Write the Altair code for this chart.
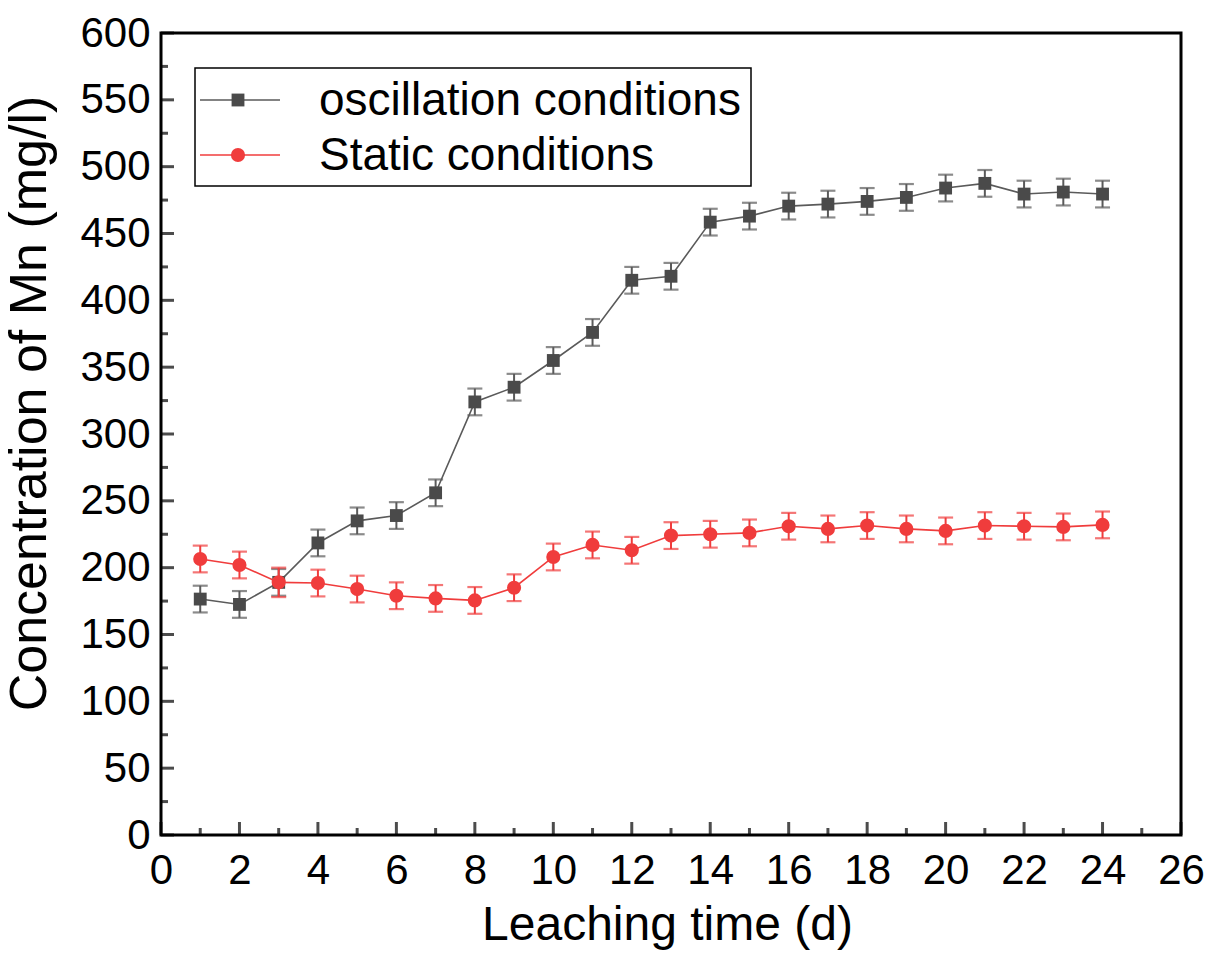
import altair as alt
import pandas as pd

# Leaching time (days) and Mn concentration (mg/l) with standard deviations
days = list(range(1, 25))
oscillation = [176.5, 172.5, 189, 218.5, 235, 239, 256, 324, 335, 355, 376, 415,
               418, 458.5, 463, 470.5, 472, 474, 477, 484, 487.5, 479.5, 481, 479.5]
oscillation_err = [10, 10, 10, 10, 10, 10, 10, 10, 10, 10, 10, 10,
                   10, 10, 10, 10, 10, 10, 10, 10, 10, 10, 10, 10]
static = [206.5, 202, 189, 188.5, 184, 179, 177, 175.5, 185, 208, 217, 213,
          224, 225, 226, 231, 229, 231.5, 229, 227.5, 231.5, 231, 230.5, 232]
static_err = [10, 10, 11, 10, 10, 10, 10, 10, 10, 10, 10, 10,
              10, 10, 10, 10, 10, 10, 10, 10, 10, 10, 10, 10]

series_names = ["oscillation conditions", "Static conditions"]
series_colors = ["#4a4a4a", "#f03c3c"]
line_colors = ["#5a5a5a", "#f03c3c"]
series_shapes = ["square", "circle"]
series_sizes = [165, 200]

x_major = list(range(0, 27, 2))
x_minor = list(range(1, 26, 2))
y_major = list(range(0, 601, 50))
y_minor = list(range(25, 600, 50))

W, H = 1020, 802
FONT = "Liberation Sans"

x_scale = alt.Scale(domain=[0, 26], nice=False, zero=False)
y_scale = alt.Scale(domain=[0, 600], nice=False, zero=False)

osc_df = pd.DataFrame({"day": days, "value": oscillation, "err": oscillation_err})
osc_df["lo"] = osc_df["value"] - osc_df["err"]
osc_df["hi"] = osc_df["value"] + osc_df["err"]
sta_df = pd.DataFrame({"day": days, "value": static, "err": static_err})
sta_df["lo"] = sta_df["value"] - sta_df["err"]
sta_df["hi"] = sta_df["value"] + sta_df["err"]

x_axis = alt.Axis(values=x_major, ticks=False, domain=False, grid=False,
                  labelFlush=False, labelOverlap=False,
                  labelFontSize=42, labelFont=FONT, labelColor="black", labelPadding=15,
                  title="Leaching time (d)", titleFont=FONT, titleFontSize=48,
                  titleFontWeight="normal", titleColor="black",
                  titleX=506, titleY=90, titleAlign="center", titleBaseline="middle")
y_axis = alt.Axis(values=y_major, ticks=False, domain=False, grid=False,
                  labelFlush=False, labelOverlap=False,
                  labelFontSize=42, labelFont=FONT, labelColor="black", labelPadding=11,
                  title="Concentration of Mn (mg/l)", titleFont=FONT, titleFontSize=52,
                  titleFontWeight="normal", titleColor="black", titleAngle=270,
                  titleX=-132, titleY=370, titleAlign="center", titleBaseline="middle")


def X(field):
    return alt.X(field, scale=x_scale, axis=x_axis)


def Y(field):
    return alt.Y(field, scale=y_scale, axis=y_axis)


def series_layers(df, color, line_color, shape, size):
    base = alt.Chart(df)
    line = base.mark_line(color=line_color, strokeWidth=1.6).encode(
        x=X("day:Q"), y=Y("value:Q"))
    bar = base.mark_rule(color=line_color, strokeWidth=2).encode(
        x=X("day:Q"), y=Y("lo:Q"), y2="hi:Q")
    cap_hi = base.mark_tick(color=line_color, thickness=2.2, size=15,
                            orient="horizontal").encode(x=X("day:Q"), y=Y("hi:Q"))
    cap_lo = base.mark_tick(color=line_color, thickness=2.2, size=15,
                            orient="horizontal").encode(x=X("day:Q"), y=Y("lo:Q"))
    pts = base.mark_point(shape=shape, filled=True, opacity=1, color=color,
                          size=size).encode(x=X("day:Q"), y=Y("value:Q"))
    return [line, bar, cap_hi, cap_lo, pts]


# inward tick marks on the bottom and left axes
def x_ticks(vals, length):
    return alt.Chart(pd.DataFrame({"t": vals})).mark_tick(
        color="black", thickness=3, size=length, orient="vertical").encode(
        x=X("t:Q"), y=alt.value(H - length / 2))


def y_ticks(vals, length):
    return alt.Chart(pd.DataFrame({"t": vals})).mark_tick(
        color="black", thickness=3, size=length, orient="horizontal").encode(
        y=Y("t:Q"), x=alt.value(length / 2))


tick_layers = [x_ticks(x_major, 13), x_ticks(x_minor, 7),
               y_ticks(y_major, 13), y_ticks(y_minor, 7)]

# legend box
leg_rows = [67, 122]
legend_box = alt.Chart(pd.DataFrame({"k": [0]})).mark_rect(
    fill="white", stroke="black", strokeWidth=1.5).encode(
    x=alt.value(34), x2=alt.value(590), y=alt.value(35), y2=alt.value(153))

legend_layers = [legend_box]
for i, name in enumerate(series_names):
    src = alt.Chart(pd.DataFrame({"name": [name]}))
    legend_layers.append(src.mark_rule(color=line_colors[i], strokeWidth=1.6).encode(
        x=alt.value(39), x2=alt.value(119), y=alt.value(leg_rows[i])))
    legend_layers.append(src.mark_point(shape=series_shapes[i], filled=True, opacity=1,
                                        color=series_colors[i],
                                        size=series_sizes[i]).encode(
        x=alt.value(77), y=alt.value(leg_rows[i])))
    legend_layers.append(src.mark_text(align="left", baseline="middle", font=FONT,
                                       fontSize=46, color="black").encode(
        x=alt.value(158), y=alt.value(leg_rows[i] + 1), text="name:N"))

layers = (series_layers(osc_df, series_colors[0], line_colors[0], "square", series_sizes[0])
          + series_layers(sta_df, series_colors[1], line_colors[1], "circle", series_sizes[1])
          + tick_layers + legend_layers)

chart = alt.layer(*layers).properties(
    width=W, height=H,
    autosize=alt.AutoSizeParams(type="none"),
    padding={"left": 161, "top": 33, "right": 31, "bottom": 124},
    background="white",
).configure_view(stroke="black", strokeWidth=3)

chart.save("out.html", embed_options={"renderer": "svg", "actions": False})
